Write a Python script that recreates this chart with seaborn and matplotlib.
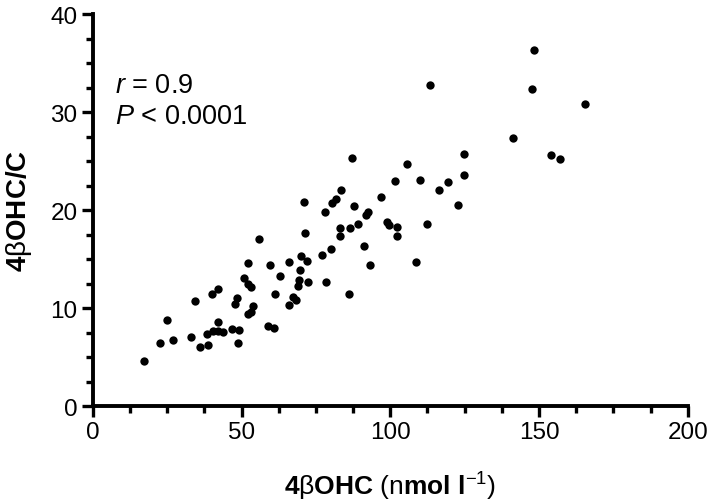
import numpy as np
import pandas as pd
import matplotlib
matplotlib.use('Agg')
import matplotlib.pyplot as plt
from matplotlib.ticker import MultipleLocator
import seaborn as sns

# values
ohc = [17.3, 22.7, 24.8, 27.1, 33.1, 34.3, 36.1, 38.3, 38.8, 40.0,
       40.4, 41.9, 42.0, 42.0, 43.6, 46.9, 47.9, 48.4, 48.7, 49.2,
       50.9, 52.1, 52.1, 52.3, 53.1, 53.1, 53.9, 55.7, 58.8, 59.6,
       61.0, 61.3, 62.8, 66.0, 66.1, 67.3, 68.3, 69.0, 69.2, 69.7,
       70.1, 71.1, 71.3, 72.1, 72.3, 77.1, 78.1, 78.5, 80.0, 80.4,
       81.6, 83.3, 83.2, 83.2, 86.1, 86.4, 87.2, 87.9, 89.2, 91.3,
       91.7, 92.4, 93.3, 96.8, 98.8, 99.6, 101.5, 102.4, 102.4, 105.7,
       108.8, 110.1, 112.3, 113.5, 116.5, 119.5, 122.8, 124.7, 124.9, 141.2,
       147.5, 148.3, 153.9, 157.2, 165.5]
ratio = [4.6, 6.4, 8.8, 6.7, 7.1, 10.7, 6.0, 7.4, 6.2, 11.4,
         7.7, 8.6, 12.0, 7.7, 7.6, 7.9, 10.4, 11.0, 6.4, 7.8,
         13.1, 14.6, 9.4, 12.5, 12.2, 9.6, 10.2, 17.1, 8.2, 14.4,
         8.0, 11.4, 13.3, 10.3, 14.7, 11.1, 10.8, 12.3, 12.9, 13.9,
         15.3, 20.8, 17.7, 14.8, 12.7, 15.4, 19.8, 12.7, 16.0, 20.7,
         21.1, 22.0, 18.2, 17.4, 11.4, 18.2, 25.3, 20.4, 18.6, 16.3,
         19.5, 19.8, 14.4, 21.3, 18.8, 18.5, 23.0, 18.3, 17.4, 24.7,
         14.7, 23.1, 18.6, 32.8, 22.1, 22.9, 20.5, 25.7, 23.6, 27.4,
         32.4, 36.3, 25.6, 25.2, 30.8]

df = pd.DataFrame({'4bOHC': ohc, '4bOHC/C': ratio})

sns.set_theme(style='ticks')
plt.rcParams['font.family'] = ['Liberation Sans', 'DejaVu Sans']
plt.rcParams['text.color'] = 'black'
plt.rcParams['axes.labelcolor'] = 'black'
plt.rcParams['mathtext.fontset'] = 'custom'
plt.rcParams['mathtext.rm'] = 'Liberation Sans'
plt.rcParams['mathtext.it'] = 'Liberation Sans:italic'
plt.rcParams['mathtext.bf'] = 'Liberation Sans:bold'

fig = plt.figure(figsize=(7.09, 5.02), dpi=100)
ax = fig.add_axes([0.131, 0.189, 0.839, 0.781])

sns.scatterplot(data=df, x='4bOHC', y='4bOHC/C', ax=ax, color='black',
                s=36, linewidth=0, clip_on=False)

ax.set_xlim(0, 200)
ax.set_ylim(0, 40)
ax.xaxis.set_major_locator(MultipleLocator(50))
ax.xaxis.set_minor_locator(MultipleLocator(12.5))
ax.yaxis.set_major_locator(MultipleLocator(10))
ax.yaxis.set_minor_locator(MultipleLocator(2.5))

sns.despine(ax=ax)
for side in ['left', 'bottom']:
    ax.spines[side].set_linewidth(2.8)
    ax.spines[side].set_color('black')
ax.tick_params(which='major', length=8, width=2.4, color='black',
               labelsize=17.5, labelcolor='black', pad=3)
ax.tick_params(which='minor', length=5, width=2.4, color='black')

ax.set_xlabel(r'$\mathbf{4}$β$\mathbf{OHC}$ (n$\mathbf{mol\ l}^{-1}$)',
              fontsize=19, labelpad=19)
ax.set_ylabel(r'$\mathbf{4}$β$\mathbf{OHC/C}$', fontsize=20, labelpad=12)

ax.text(7.5, 32.8, r'$r$ = 0.9', fontsize=19.5, va='center', ha='left')
ax.text(7.5, 29.6, r'$P$ < 0.0001', fontsize=19.5, va='center', ha='left')

fig.savefig('out.png', dpi=100)
